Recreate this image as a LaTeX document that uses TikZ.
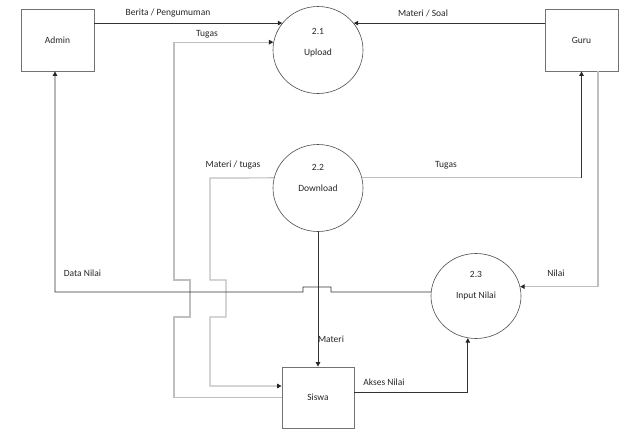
\documentclass[tikz,border=0pt]{standalone}
\usepackage{fontspec}
\setmainfont{Carlito}
\usetikzlibrary{arrows.meta,shapes.geometric}
\begin{document}
\begin{tikzpicture}[x=1pt,y=-1pt,
  every node/.style={font=\fontsize{9.5}{11}\selectfont, text=black!85},
  entity/.style={draw=black!55, line width=0.8pt, minimum width=73pt, minimum height=62pt, inner sep=0pt},
  proc/.style={draw=black!70, line width=0.6pt, ellipse, minimum width=90pt, minimum height=87pt, inner sep=0pt},
  darkline/.style={draw=black!80, line width=0.8pt},
  grayline/.style={draw=black!25, line width=1.2pt},
  arr/.style={-{Triangle[length=4.5pt,width=4.5pt,color=black!85]}},
  lbl/.style={inner sep=0pt}
]
\useasboundingbox (0,0) rectangle (640,437);
% entities
\node[entity] (admin) at (57.5,40) {Admin};
\node[entity] (guru) at (581.5,40) {Guru};
\node[entity, minimum width=72pt, minimum height=61pt] (siswa) at (318,397.5) {Siswa};
% processes
\node[proc] (upload) at (318,50) {};
\node[lbl] (uploadnum) at (318,31) {2.1};
\node[lbl] (uploadname) at (318,53) {Upload};
\node[proc] (download) at (318,188) {};
\node[lbl] (downloadnum) at (318,167) {2.2};
\node[lbl] (downloadname) at (318,188) {Download};
\node[proc, minimum height=85pt] (input) at (476,296) {};
\node[lbl] (inputnum) at (476,274) {2.3};
\node[lbl] (inputname) at (476,296) {Input Nilai};
% connectors
\draw[darkline,arr] (admin.east |- upload.143) -- (upload.143);
\node[lbl] (l1) at (168,13) {Berita / Pengumuman};
\draw[darkline,arr] (guru.west |- upload.37) -- (upload.37);
\node[lbl] (l2) at (423,13) {Materi / Soal};
\draw[grayline,arr] (siswa.west) -- (174,397.5) -- (174,317) -- (190,317) -- (190,280) -- (174,280) |- (upload.170);
\node[lbl] (l3) at (207,34) {Tugas};
\draw[grayline,arr] (download.167) -- (210,178) -- (210,280) -- (226,280) -- (226,317) -- (210,317) |- (siswa.west |- 0,386);
\node[lbl] (l4) at (233,165) {Materi / tugas};
\coordinate (gc) at (download.13 -| guru.south);
\draw[grayline] (download.13) -- (gc);
\draw[darkline,arr] (gc) -- (guru.south);
\node[lbl] (l5) at (446,165) {Tugas};
\coordinate (g2) at ([xshift=16.5pt]guru.south);
\draw[grayline,arr] (g2) |- (input.12);
\node[lbl] (l6) at (556,273) {Nilai};
\coordinate (a2) at ([xshift=-2.5pt]admin.south);
\draw[darkline,arr] (input.175) -- (331,292) -- (331,287) -- (303,287) -- (303,292) -| (a2);
\node[lbl] (l7) at (82.5,273) {Data Nilai};
\draw[darkline,arr] (download.south) -- (siswa.north);
\node[lbl] (l8) at (331,339) {Materi};
\draw[darkline,arr] (siswa.east |- 0,392) -| (input.259);
\node[lbl] (l9) at (384,382) {Akses Nilai};
\end{tikzpicture}
\end{document}
